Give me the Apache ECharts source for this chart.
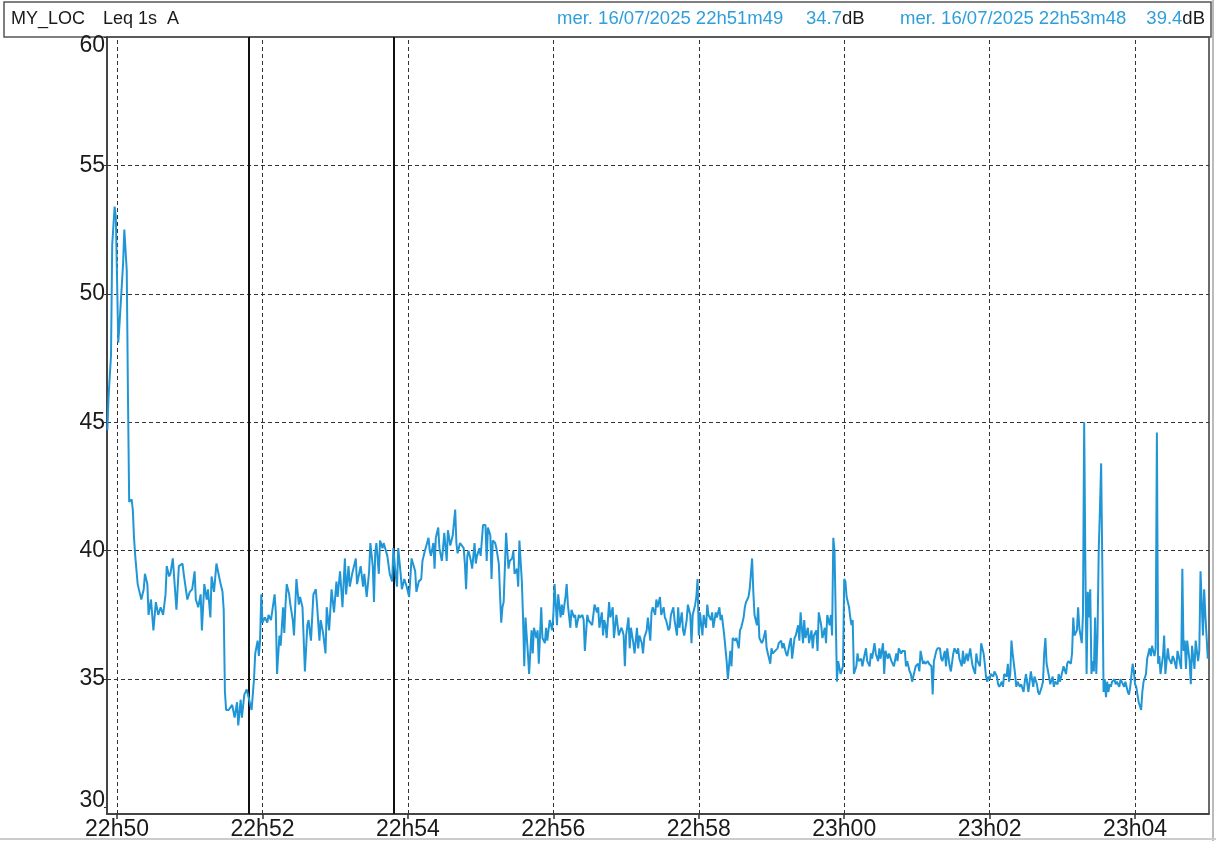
<!DOCTYPE html>
<html><head><meta charset="utf-8">
<script src="https://cdn.jsdelivr.net/npm/echarts@6/dist/echarts.min.js"></script>
<style>html,body{margin:0;padding:0;background:#fff}#c{width:1216px;height:841px}</style>
</head><body><div id="c"></div><script>
// seconds relative to 22h50m00
const times = [-8,-7,-5,-4,-2,-1,1,2,5,6,8,9,10,12,13,14,15,17,19,20,22,23,25,26,28,30,32,34,36,38,40,41,43,44,46,49,51,54,55,58,60,62,64,65,67,69,70,72,74,75,77,78,80,82,85,87,88,89,
90,92,95,97,99,100,102,103,105,107,109,111,113,114,116,117,118,119,120,122,124,125,127,130,131,132,134,135,137,138,139,140,142,143,145,146,147,148,150,151,153,155,157,158,160,162,164,165,167,168,170,172,173,175,177,179,181,182,184,186,187,188,189,191,192,194,197,198,201,203,204,206,208,209,211,212,213,214,216,217,219,220,223,225,227,228,230,231,232,234,235,237,239,241,243,
244,246,247,249,251,252,254,257,258,259,261,262,263,265,266,268,269,270,272,273,275,277,279,280,281,283,284,286,287,288,289,290,292,293,294,295,296,297,299,300,302,304,305,306,308,309,310,312,313,315,316,317,318,319,320,321,323,324,326,327,328,330,331,332,334,335,336,337,339,340,342,343,344,346,347,348,350,351,353,354,355,357,359,360,361,363,364,366,367,368,370,371,372,374,375,377,378,379,381,382,384,385,386,388,389,392,394,
396,397,398,400,401,402,403,404,406,407,409,410,412,413,414,416,417,418,419,420,422,423,424,426,427,429,430,431,433,434,435,437,438,440,441,442,444,445,446,448,449,451,452,453,455,456,457,459,460,462,463,464,466,467,468,470,471,473,474,475,477,478,479,480,481,483,484,486,487,488,490,491,492,494,495,497,498,499,501,502,503,504,506,507,508,510,511,513,514,515,517,518,519,521,522,524,525,526,528,529,530,532,533,535,536,537,539,540,541,543,
545,546,548,549,550,552,553,555,556,557,559,560,562,563,564,566,567,568,570,571,573,574,575,577,578,579,581,582,584,585,586,588,589,590,591,592,594,595,596,597,599,600,601,602,604,605,606,607,608,610,611,612,614,615,617,618,619,621,622,623,625,626,628,629,630,632,633,634,636,637,639,640,641,643,644,645,647,648,650,651,652,654,655,656,658,659,661,662,663,665,666,667,669,670,672,673,674,676,677,679,680,681,683,684,685,687,688,690,
691,693,694,695,697,698,699,701,702,704,705,706,708,709,710,712,713,715,716,717,718,719,720,721,723,724,726,727,728,730,731,732,734,735,736,737,738,739,741,742,743,745,746,748,749,750,752,753,754,756,757,759,760,761,763,764,765,766,767,769,770,772,773,774,776,777,778,780,781,783,784,785,787,788,789,790,792,793,794,796,797,
798,799,800,801,802,803,804,805,806,807,808,809,810,811,812,813,814,815,816,817,818,819,820,821,823,824,825,827,828,830,831,832,834,835,836,838,839,840,841,842,843,845,846,847,849,850,852,853,854,856,857,858,859,860,861,863,864,865,867,868,870,871,872,874,875,876,878,879,880,881,882,883,885,886,887,889,890,892,893,894,896,897,898,900];
// Leq 1s, dB(A)
const levels = [44.7,46.0,47.6,51.9,53.4,53.0,48.1,48.8,51.2,52.5,50.9,46.0,41.9,42.0,41.6,40.5,39.8,38.7,38.3,38.1,38.5,39.1,38.7,37.5,38.1,36.9,38.0,37.5,37.8,37.5,38.3,39.4,39.0,39.1,39.7,37.7,39.4,39.5,39.1,38.1,38.4,38.5,39.2,38.1,37.8,38.3,36.9,38.7,38.1,38.5,37.4,39.0,38.4,39.5,38.8,38.4,37.7,34.5,
33.8,33.8,34.0,33.5,34.1,33.2,34.2,33.5,34.4,34.6,34.2,33.8,35.0,36.0,36.5,35.9,36.5,38.3,37.2,37.4,37.2,37.5,37.3,38.3,37.6,35.2,36.7,36.3,37.8,36.8,37.9,38.7,38.3,37.9,37.3,36.7,37.8,38.9,37.9,38.2,37.8,35.3,37.1,37.3,36.5,38.3,38.5,37.9,36.5,37.3,36.8,36.0,37.8,36.9,38.5,37.6,38.8,38.2,39.2,37.8,38.8,39.7,38.3,39.4,38.6,39.1,39.7,38.7,39.4,38.6,39.1,38.2,39.2,40.3,39.4,38.0,39.9,40.3,39.1,40.4,40.1,40.3,39.8,39.1,38.8,40.1,39.0,38.6,40.1,39.1,38.5,38.9,38.6,38.2,39.7,
39.7,39.2,38.4,38.8,38.9,39.6,40.0,40.5,40.0,39.8,40.3,39.3,40.5,40.9,40.1,39.6,40.1,40.7,39.6,40.8,40.2,40.6,41.6,40.3,39.9,40.3,40.3,40.1,39.5,38.5,39.8,40.0,39.6,39.3,39.8,40.3,39.5,39.8,40.1,39.8,41.0,41.0,39.6,40.9,40.6,38.9,40.4,40.3,40.1,39.5,38.3,37.2,37.8,38.0,38.0,40.7,39.3,39.6,39.7,40.0,39.1,39.3,38.6,40.4,38.8,37.4,35.5,37.4,36.0,35.2,36.9,36.0,37.0,36.6,36.9,35.6,37.8,36.6,36.4,37.0,36.5,37.3,36.9,37.5,38.7,37.1,38.3,37.4,37.9,37.5,38.2,38.7,37.9,37.0,37.7,37.4,37.5,37.0,37.5,37.4,37.5,37.3,36.1,37.5,37.3,37.1,37.9,
37.6,37.8,37.0,37.6,36.7,37.3,37.1,36.6,38.0,37.4,37.8,36.6,37.5,37.1,36.7,37.0,36.9,36.7,35.5,36.7,37.4,36.2,37.0,36.4,36.0,37.0,36.2,36.7,36.4,36.0,36.6,36.9,37.4,36.5,37.6,37.8,37.5,38.1,37.8,38.2,37.5,37.8,37.4,37.3,36.9,37.0,37.5,37.8,37.3,36.7,37.8,37.0,37.6,36.9,36.7,37.3,37.9,37.5,36.4,37.5,37.9,38.2,38.9,36.7,37.6,36.7,37.5,37.0,37.9,37.5,37.3,37.6,37.0,37.6,37.4,37.8,37.3,37.5,36.7,36.2,35.7,35.0,36.1,35.5,36.6,36.5,36.6,36.2,36.9,37.0,37.4,37.8,38.0,38.2,38.5,39.7,38.4,37.5,37.1,37.8,36.6,36.4,36.5,36.9,36.2,36.0,35.6,36.2,36.0,36.1,
36.2,36.4,36.5,36.2,36.4,36.0,35.9,36.4,36.6,35.8,36.6,36.7,37.1,36.5,37.6,36.4,37.3,36.6,37.0,36.4,36.9,36.2,36.7,36.9,36.1,37.6,37.1,36.6,37.0,36.4,37.5,37.1,37.5,36.7,40.5,40.0,34.9,35.7,35.7,35.2,35.5,38.9,38.8,38.2,37.8,37.4,37.1,37.3,35.2,35.5,36.0,35.7,35.8,35.5,36.0,36.2,35.7,35.5,36.0,35.8,36.4,36.0,35.7,36.2,35.8,36.4,35.2,36.1,35.8,36.0,35.7,35.6,35.5,36.0,35.7,36.2,36.0,36.1,36.1,35.5,35.7,35.3,35.2,34.9,35.3,35.5,35.6,35.3,36.1,35.6,35.7,35.6,35.7,35.6,35.5,34.4,35.7,36.1,36.2,36.2,35.8,35.7,36.1,35.5,36.2,35.5,35.3,36.0,
36.2,36.0,36.2,35.8,35.5,36.1,35.6,36.0,35.7,36.2,35.8,35.5,35.2,36.0,35.7,35.5,36.4,36.0,35.6,35.1,34.9,35.1,35.0,35.2,35.1,35.3,35.1,34.8,34.7,34.9,34.7,35.2,35.1,35.6,34.9,35.2,36.5,36.0,35.2,34.7,34.9,34.7,34.8,34.5,34.9,35.2,34.5,34.9,35.3,34.7,35.1,34.8,34.5,34.4,34.7,34.9,36.0,36.6,35.6,35.1,34.8,35.1,34.7,34.9,34.8,35.2,34.9,35.3,35.5,35.2,35.6,35.7,35.6,36.0,37.4,36.7,36.9,37.8,37.0,36.4,37.5,
45.0,39.3,35.2,38.4,37.4,38.5,35.2,35.7,35.3,37.4,35.2,36.7,40.0,41.6,43.4,39.3,34.5,35.0,34.3,34.9,34.5,34.8,34.7,34.9,35.0,34.8,34.9,34.7,35.0,34.8,34.7,34.9,34.5,34.4,34.7,35.6,35.3,34.8,34.7,34.4,34.1,33.8,34.5,34.9,35.2,35.8,36.2,35.9,36.3,35.9,36.2,44.6,35.6,35.9,35.2,35.9,36.7,35.2,36.2,35.8,35.6,35.9,35.8,35.4,36.1,35.9,35.4,39.3,36.1,36.5,35.4,36.5,35.7,34.8,36.3,35.4,36.5,35.7,36.1,39.2,36.7,38.5,37.5,35.8];

const xTickSeconds = [0,120,240,360,480,600,720,840];
const xTickLabels = ['22h50','22h52','22h54','22h56','22h58','23h00','23h02','23h04'];
const yTicks = [30,35,40,45,50,55,60];
const yGrid = [35,40,45,50,55];
const cursorSeconds = [109,228];
const headerStation = 'MY_LOC';
const headerMeasure = 'Leq 1s  A';
const cursorDates = ['mer. 16/07/2025 22h51m49','mer. 16/07/2025 22h53m48'];
const cursorLevels = ['34.7','39.4'];
const unitText = 'dB';

const FONT = '"Liberation Sans", Arial, sans-serif';
const BLUE_TXT = '#2e9edc';
const LINE = '#2196d6';
const data = times.map((t,i)=>[t, levels[i]]);

const chart = echarts.init(document.getElementById('c'));
const gridMarks = []
  .concat(xTickSeconds.map(s=>({xAxis:s, lineStyle:{type:[4,3], color:'#333', width:1}})))
  .concat(yGrid.map(v=>({yAxis:v, lineStyle:{type:[4,3], color:'#333', width:1}})))
  .concat(cursorSeconds.map(s=>({xAxis:s, lineStyle:{type:'solid', color:'#111', width:2}})));

chart.setOption({
  animation:false,
  backgroundColor:'#fff',
  grid:{left:107, right:7, top:37, bottom:27, show:true, borderColor:'#3a3a3a', borderWidth:1.5, backgroundColor:'transparent'},
  xAxis:{type:'value', min:-8.3, max:901,
    axisLine:{show:true, onZero:false, lineStyle:{color:'#3a3a3a', width:1.5}},
    axisTick:{show:true, customValues:xTickSeconds, length:5, lineStyle:{color:'#333', width:1.5}},
    axisLabel:{customValues:xTickSeconds, formatter:v=>xTickLabels[xTickSeconds.indexOf(Math.round(v))]||'',
      fontSize:23, color:'#1a1a1a', fontFamily:FONT, margin:4},
    splitLine:{show:false}},
  yAxis:{type:'value', min:29.75, max:60,
    axisLine:{show:true, onZero:false, lineStyle:{color:'#3a3a3a', width:1.5}},
    axisTick:{show:true, customValues:yTicks, length:3, lineStyle:{color:'#333'}},
    axisLabel:{customValues:yTicks, margin:2, fontSize:23, color:'#1a1a1a', fontFamily:FONT,
      formatter:v=> v===60?'{t|60}':(v===30?'{b|30}':'{m|'+v+'}'),
      rich:{t:{fontSize:23, fontFamily:FONT, color:'#1a1a1a', padding:[17,0,0,0]},
            b:{fontSize:23, fontFamily:FONT, color:'#1a1a1a', padding:[0,0,13,0]},
            m:{fontSize:23, fontFamily:FONT, color:'#1a1a1a'}}},
    splitLine:{show:false}},
  series:[
    {type:'line', data:[], z:1, silent:true,
      markLine:{silent:true, symbol:['none','none'], label:{show:false}, animation:false, data:gridMarks}},
    {type:'line', data:data, z:5, showSymbol:false, symbol:'none', silent:true,
      lineStyle:{color:LINE, width:2}}
  ],
  graphic:[
    {type:'rect', shape:{x:4, y:2, width:1207, height:35}, style:{fill:'none', stroke:'#555', lineWidth:1.5}, silent:true},
    {type:'line', shape:{x1:1213, y1:0, x2:1213, y2:841}, style:{stroke:'#bbb', lineWidth:2}, silent:true},
    {type:'line', shape:{x1:0, y1:839, x2:1216, y2:839}, style:{stroke:'#ccc', lineWidth:2}, silent:true},
    {type:'text', x:11, y:19, style:{text:headerStation, font:'18px '+FONT, fill:'#1a1a1a', verticalAlign:'middle', textVerticalAlign:'middle'}},
    {type:'text', x:103, y:19, style:{text:headerMeasure, font:'18px '+FONT, fill:'#1a1a1a', verticalAlign:'middle', textVerticalAlign:'middle'}},
    {type:'text', x:557, y:19, style:{text:cursorDates[0], font:'18.5px '+FONT, fill:BLUE_TXT, verticalAlign:'middle', textVerticalAlign:'middle'}},
    {type:'text', x:806, y:19, style:{text:'{v|'+cursorLevels[0]+'}{u|'+unitText+'}', font:'18.5px '+FONT, verticalAlign:'middle', textVerticalAlign:'middle',
      rich:{v:{fill:BLUE_TXT, color:BLUE_TXT, fontSize:18.5, fontFamily:FONT}, u:{fill:'#1a1a1a', color:'#1a1a1a', fontSize:18.5, fontFamily:FONT}}}},
    {type:'text', x:900, y:19, style:{text:cursorDates[1], font:'18.5px '+FONT, fill:BLUE_TXT, verticalAlign:'middle', textVerticalAlign:'middle'}},
    {type:'text', x:1205, y:19, style:{text:'{v|'+cursorLevels[1]+'}{u|'+unitText+'}', font:'18.5px '+FONT, align:'right', textAlign:'right', verticalAlign:'middle', textVerticalAlign:'middle',
      rich:{v:{fill:BLUE_TXT, color:BLUE_TXT, fontSize:18.5, fontFamily:FONT}, u:{fill:'#1a1a1a', color:'#1a1a1a', fontSize:18.5, fontFamily:FONT}}}}
  ]
});
</script></body></html>
